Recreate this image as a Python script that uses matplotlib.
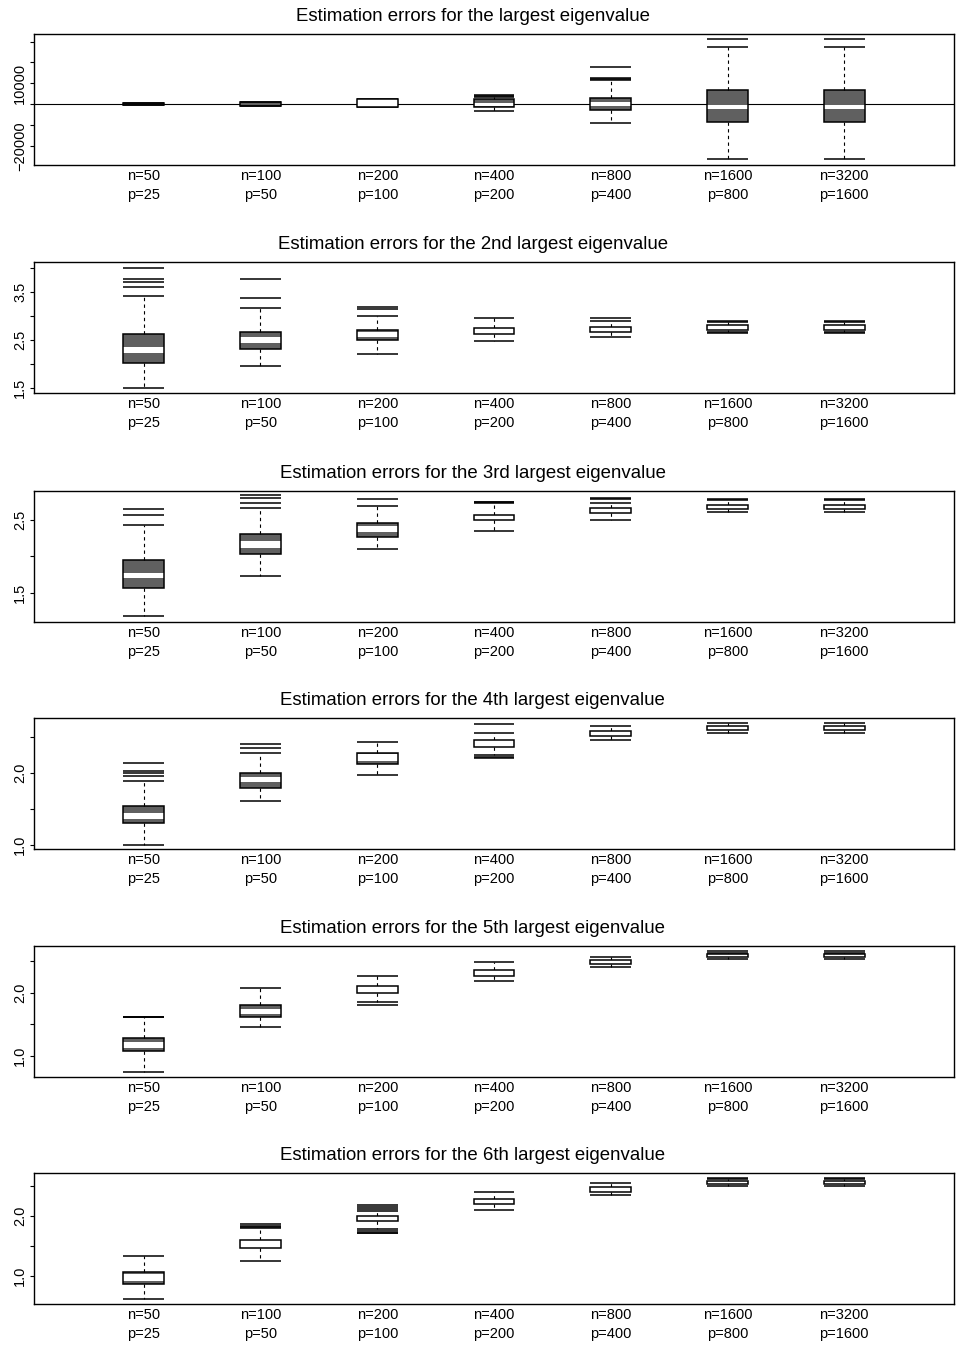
import matplotlib
matplotlib.use("Agg")
import matplotlib.pyplot as plt

plt.rcParams['font.family'] = ['Liberation Sans', 'DejaVu Sans']

# group labels along the x axis
groups = ["n=50\np=25", "n=100\np=50", "n=200\np=100", "n=400\np=200",
          "n=800\np=400", "n=1600\np=800", "n=3200\np=1600"]

titles = ["Estimation errors for the largest eigenvalue",
          "Estimation errors for the 2nd largest eigenvalue",
          "Estimation errors for the 3rd largest eigenvalue",
          "Estimation errors for the 4th largest eigenvalue",
          "Estimation errors for the 5th largest eigenvalue",
          "Estimation errors for the 6th largest eigenvalue"]

# box statistics, one row per panel, one value per group
cap_hi = [[700, 1300, 2600, 3600, 11500, 27500, 27500],
          [3.41, 3.17, 2.99, 2.95, 2.90, 2.86, 2.86],
          [2.43, 2.66, 2.69, 2.73, 2.73, 2.77, 2.77],
          [1.89, 2.27, 2.42, 2.55, 2.65, 2.69, 2.69],
          [1.61, 2.08, 2.26, 2.48, 2.57, 2.63, 2.63],
          [1.34, 1.80, 2.08, 2.39, 2.54, 2.61, 2.61]]
q3 = [[500, 1100, 2400, 2400, 3000, 7000, 7000],
      [2.61, 2.66, 2.70, 2.74, 2.76, 2.81, 2.81],
      [1.95, 2.30, 2.45, 2.57, 2.66, 2.70, 2.70],
      [1.54, 1.99, 2.28, 2.46, 2.58, 2.65, 2.65],
      [1.28, 1.80, 2.11, 2.36, 2.52, 2.61, 2.61],
      [1.07, 1.60, 1.99, 2.28, 2.48, 2.58, 2.58]]
band_hi = [[0, 0, 2400, 600, 1200, -500, -500],
           [2.34, 2.56, 2.67, 2.74, 2.76, 2.81, 2.81],
           [1.77, 2.21, 2.41, 2.57, 2.66, 2.70, 2.70],
           [1.44, 1.94, 2.26, 2.46, 2.58, 2.65, 2.65],
           [1.22, 1.75, 2.11, 2.36, 2.52, 2.61, 2.61],
           [1.04, 1.60, 1.99, 2.28, 2.48, 2.58, 2.58]]
band_lo = [[0, 0, -1150, -600, -800, -2200, -2200],
           [2.23, 2.44, 2.55, 2.61, 2.67, 2.71, 2.71],
           [1.70, 2.12, 2.33, 2.49, 2.59, 2.65, 2.65],
           [1.36, 1.87, 2.16, 2.36, 2.51, 2.60, 2.60],
           [1.13, 1.66, 2.00, 2.27, 2.45, 2.57, 2.57],
           [0.92, 1.46, 1.91, 2.20, 2.40, 2.52, 2.52]]
q1 = [[-300, -700, -1150, -1400, -2700, -8300, -8300],
      [2.01, 2.30, 2.49, 2.61, 2.67, 2.71, 2.71],
      [1.57, 2.03, 2.27, 2.49, 2.59, 2.65, 2.65],
      [1.30, 1.79, 2.12, 2.36, 2.51, 2.60, 2.60],
      [1.07, 1.61, 2.00, 2.27, 2.45, 2.57, 2.57],
      [0.87, 1.46, 1.91, 2.20, 2.40, 2.52, 2.52]]
cap_lo = [[-500, -900, -1300, -3000, -8800, -26300, -26300],
          [1.50, 1.95, 2.20, 2.47, 2.56, 2.66, 2.66],
          [1.19, 1.73, 2.10, 2.35, 2.49, 2.60, 2.60],
          [1.00, 1.60, 1.97, 2.24, 2.45, 2.55, 2.55],
          [0.75, 1.45, 1.86, 2.19, 2.40, 2.53, 2.53],
          [0.62, 1.25, 1.79, 2.10, 2.34, 2.50, 2.50]]
outliers = [[[], [], [], [4100, 4400], [18000, 12700, 12250], [31100], [31100]],
            [[4.0, 3.76, 3.71, 3.60], [3.76, 3.37], [3.19, 3.14], [], [2.95], [2.89, 2.64], [2.89, 2.64]],
            [[2.64, 2.57], [2.83, 2.80, 2.72], [2.78], [2.74, 2.745], [2.78, 2.79], [2.78], [2.78]],
            [[2.14, 2.03, 1.99, 1.95], [2.40, 2.35], [], [2.67, 2.21, 2.22], [], [], []],
            [[1.62, 1.615], [], [1.80], [], [], [2.66], [2.66]],
            [[], [1.86, 1.83, 1.81], [2.18, 2.15, 2.12, 1.75, 1.72, 1.71], [], [], [2.625], [2.625]]]

# axis setup per panel
ylims = [(-29000, 33600), (1.39, 4.12), (1.107, 2.89), (0.94, 2.76), (0.665, 2.74), (0.54, 2.71)]
yticks = [[-20000, -10000, 0, 10000, 20000, 30000],
          [1.5, 2.0, 2.5, 3.0, 3.5, 4.0],
          [1.5, 2.0, 2.5],
          [1.0, 1.5, 2.0, 2.5],
          [1.0, 1.5, 2.0, 2.5],
          [1.0, 1.5, 2.0, 2.5]]
ylabels = [["\u221220000", "", "", "10000", "", ""],
           ["1.5", "", "2.5", "", "3.5", ""],
           ["1.5", "", "2.5"],
           ["1.0", "", "2.0", ""],
           ["1.0", "", "2.0", ""],
           ["1.0", "", "2.0", ""]]

W, H = 956, 1345
fig = plt.figure(figsize=(W / 100, H / 100), dpi=100)

tops = [34, 262, 491, 718, 946, 1173]
ax_h = 131
left, right = 34, 954
box_w = 0.35
gray = "#606060"
pos = list(range(1, 8))

for k in range(6):
    ax = fig.add_axes([left / W, 1 - (tops[k] + ax_h) / H, (right - left) / W, ax_h / H])
    for i, x in enumerate(pos):
        # box fill, white band, box outline
        ax.bar(x, q3[k][i] - q1[k][i], bottom=q1[k][i], width=box_w, color=gray,
               edgecolor="none", zorder=2)
        if band_hi[k][i] > band_lo[k][i]:
            ax.bar(x, band_hi[k][i] - band_lo[k][i], bottom=band_lo[k][i], width=box_w,
                   color="white", edgecolor="none", zorder=3)
        ax.bar(x, q3[k][i] - q1[k][i], bottom=q1[k][i], width=box_w, fill=False,
               edgecolor="black", linewidth=1.1, zorder=4)
        # whiskers
        ax.vlines([x, x], [q3[k][i], q1[k][i]], [cap_hi[k][i], cap_lo[k][i]],
                  colors="black", linewidth=0.8, linestyles=(0, (3, 3)), zorder=2)
        ax.hlines([cap_hi[k][i], cap_lo[k][i]], x - box_w / 2, x + box_w / 2,
                  colors="black", linewidth=1.1, zorder=2)
        # outliers drawn as horizontal dashes
        if outliers[k][i]:
            ax.hlines(outliers[k][i], x - box_w / 2, x + box_w / 2,
                      colors="black", linewidth=1.1, zorder=2)
    if k == 0:
        ax.axhline(0, color="black", linewidth=0.8, zorder=1)

    ax.set_xlim(0.06, 7.94)
    ax.set_ylim(*ylims[k])
    ax.set_xticks(pos)
    ax.set_xticklabels(groups, fontsize=10.5, linespacing=1.4)
    ax.tick_params(axis="x", length=0, pad=3)
    ax.set_yticks(yticks[k])
    ax.set_yticklabels(ylabels[k], fontsize=10.5, rotation=90, va="center")
    ax.tick_params(axis="y", length=3, width=0.8, pad=2, direction="out")
    for s in ax.spines.values():
        s.set_linewidth(1)
    ax.text(0.477, 1.0 + 13 / ax_h, titles[k], transform=ax.transAxes,
            ha="center", va="baseline", fontsize=13.4)

fig.savefig("out.png", dpi=100)
